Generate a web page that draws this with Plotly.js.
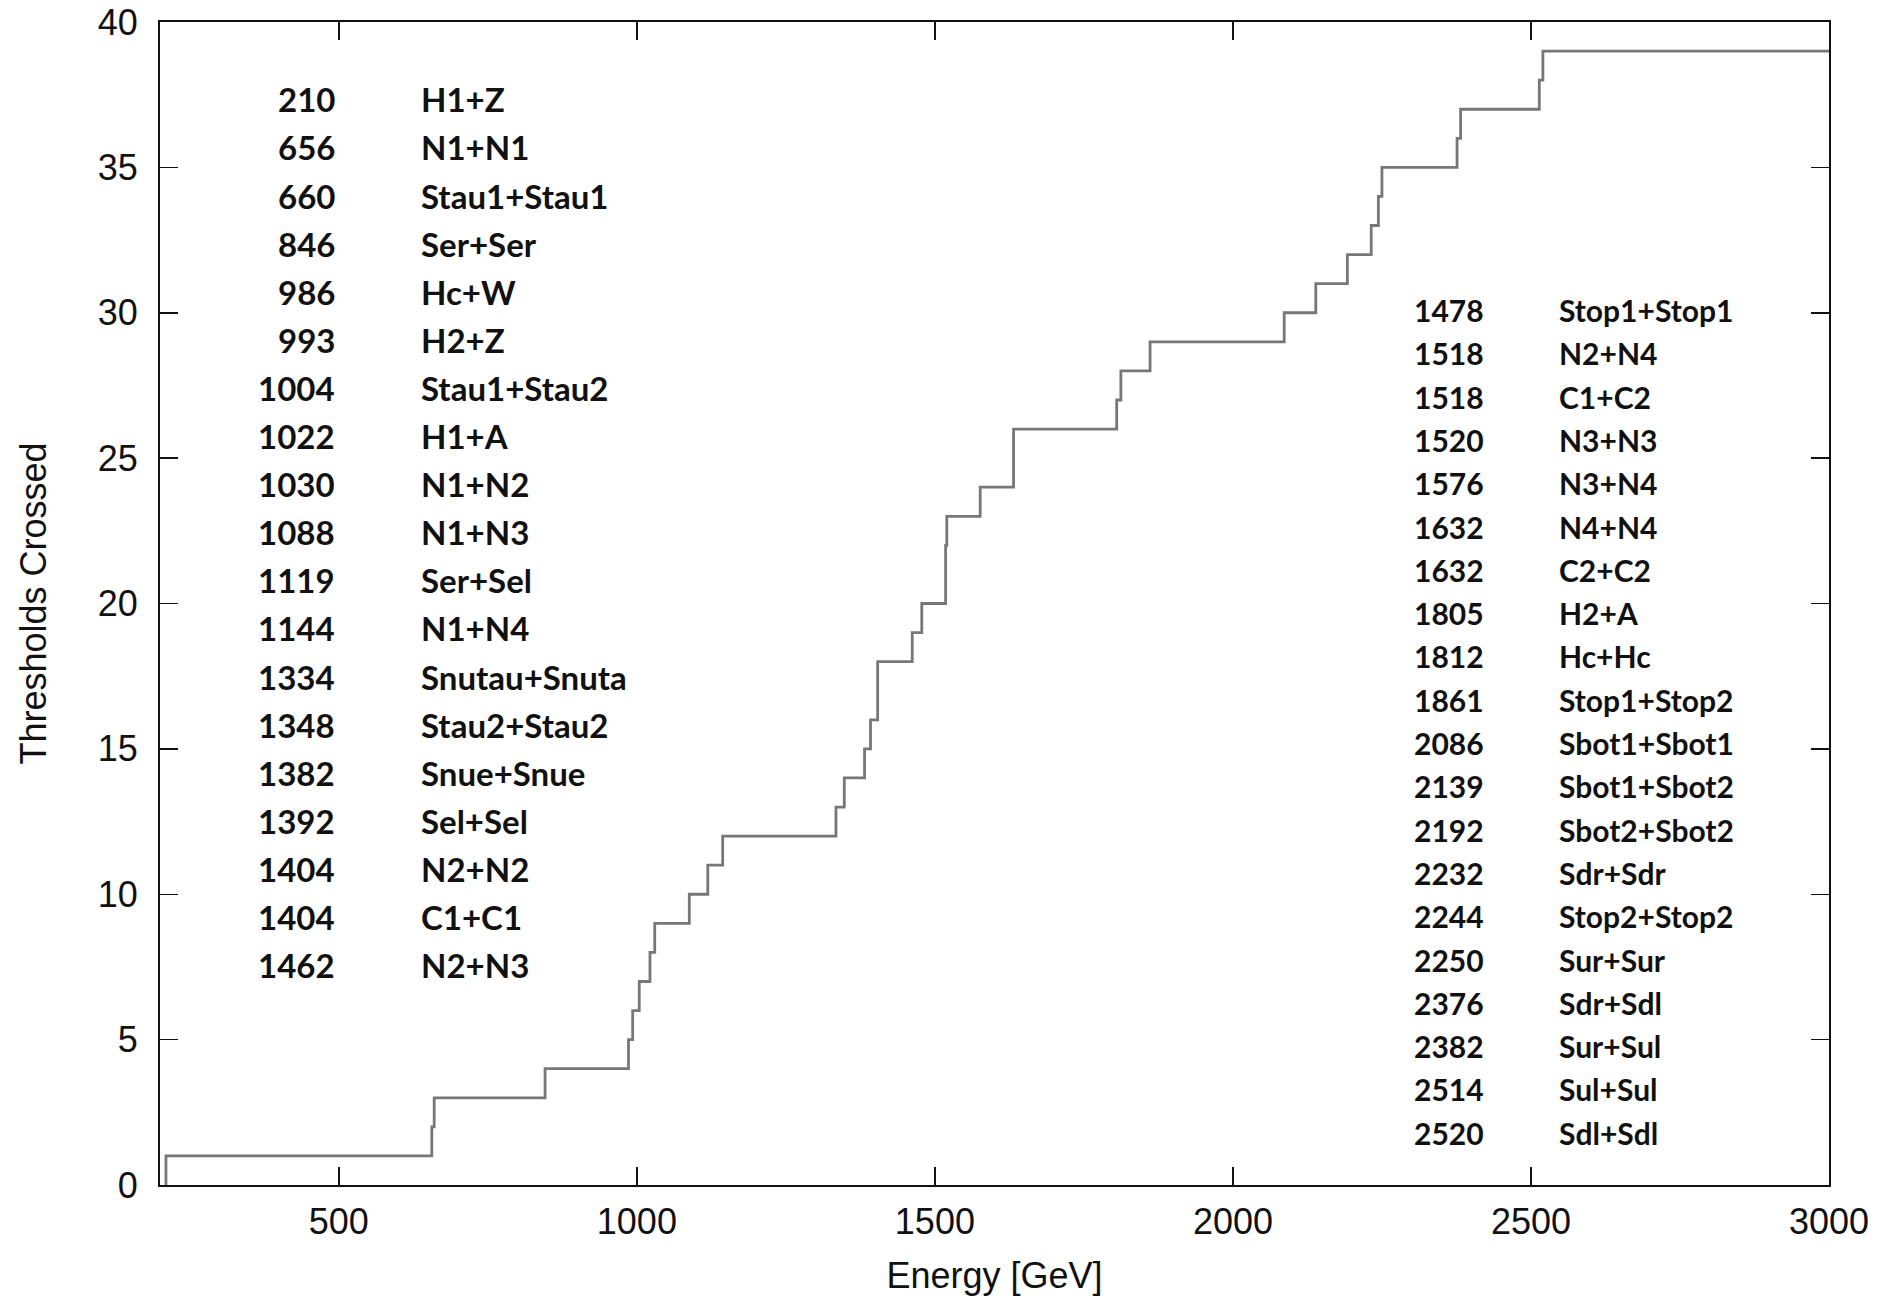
<!DOCTYPE html>
<html>
<head>
<meta charset="utf-8">
<script src="https://cdn.plot.ly/plotly-3.0.1.min.js"></script>
<style>html,body{margin:0;padding:0;background:#fff;}#chart{width:1899px;height:1300px;}</style>
</head>
<body>
<div id="chart"></div>
<script>
// Threshold energies (GeV) and channel names, left list
const leftEnergies = [210, 656, 660, 846, 986, 993, 1004, 1022, 1030, 1088, 1119, 1144, 1334, 1348, 1382, 1392, 1404, 1404, 1462];
const leftChannels = ["H1+Z", "N1+N1", "Stau1+Stau1", "Ser+Ser", "Hc+W", "H2+Z", "Stau1+Stau2", "H1+A", "N1+N2", "N1+N3", "Ser+Sel", "N1+N4", "Snutau+Snutau", "Stau2+Stau2", "Snue+Snue", "Sel+Sel", "N2+N2", "C1+C1", "N2+N3"];
// right list
const rightEnergies = [1478, 1518, 1518, 1520, 1576, 1632, 1632, 1805, 1812, 1861, 2086, 2139, 2192, 2232, 2244, 2250, 2376, 2382, 2514, 2520];
const rightChannels = ["Stop1+Stop1", "N2+N4", "C1+C2", "N3+N3", "N3+N4", "N4+N4", "C2+C2", "H2+A", "Hc+Hc", "Stop1+Stop2", "Sbot1+Sbot1", "Sbot1+Sbot2", "Sbot2+Sbot2", "Sdr+Sdr", "Stop2+Stop2", "Sur+Sur", "Sdr+Sdl", "Sur+Sul", "Sul+Sul", "Sdl+Sdl"];
const xMax = 3000;
const xTicks = [500, 1000, 1500, 2000, 2500, 3000];
const yTicks = [0, 5, 10, 15, 20, 25, 30, 35, 40];

// cumulative count of thresholds crossed
const allE = leftEnergies.concat(rightEnergies).slice().sort((a, b) => a - b);
const xs = [allE[0]];
const ys = [0];
allE.forEach((e, i) => { xs.push(e); ys.push(i + 1); });
xs.push(xMax); ys.push(allE.length);

const W = 1899, H = 1300, ML = 160, MR = 70, MT = 22, MB = 115;
const PW = W - ML - MR, PH = H - MT - MB;
const px = v => (v - ML) / PW;
const py = v => 1 - (v - MT) / PH;

const annotations = [];
const numFont = "Lato, 'Noto Sans', sans-serif";
leftEnergies.forEach((e, i) => {
  const y = py(99.3 + i * 48.1);
  annotations.push({xref: 'paper', yref: 'paper', x: px(337), y: y, xanchor: 'right', yanchor: 'middle',
    text: String(e), showarrow: false, font: {family: numFont, size: 33, color: '#111', weight: 'bold'}});
  const a = {xref: 'paper', yref: 'paper', x: px(419), y: y, xanchor: 'left', yanchor: 'middle',
    text: leftChannels[i], showarrow: false, align: 'left', font: {family: numFont, size: 33, color: '#111', weight: 'bold'}};
  if (leftChannels[i] === "Snutau+Snutau") { a.width = 207; }
  annotations.push(a);
});
rightEnergies.forEach((e, i) => {
  const y = py(310 + i * 43.3);
  annotations.push({xref: 'paper', yref: 'paper', x: px(1412), y: y, xanchor: 'left', yanchor: 'middle',
    text: String(e), showarrow: false, font: {family: numFont, size: 30, color: '#111', weight: 'bold'}});
  annotations.push({xref: 'paper', yref: 'paper', x: px(1557), y: y, xanchor: 'left', yanchor: 'middle',
    text: rightChannels[i], showarrow: false, font: {family: numFont, size: 30, color: '#111', weight: 'bold'}});
});

const axisFont = {family: "'Liberation Sans', Arial, sans-serif", size: 36, color: '#111'};
const layout = {
  width: W, height: H,
  margin: {l: ML, r: MR, t: MT, b: MB},
  paper_bgcolor: '#fff', plot_bgcolor: '#fff',
  showlegend: false,
  xaxis: {
    range: [200, xMax], tickvals: xTicks, ticktext: xTicks.map(String),
    ticks: 'inside', ticklen: 18, tickwidth: 1.5, tickcolor: '#111',
    showline: true, linecolor: '#111', linewidth: 2, mirror: 'ticks',
    showgrid: false, zeroline: false, tickfont: axisFont, ticklabelstandoff: 4,
    title: {text: 'Energy [GeV]', font: {family: "'Liberation Sans', Arial, sans-serif", size: 36, color: '#111'}, standoff: 22}
  },
  yaxis: {
    range: [0, 40], tickvals: yTicks, ticktext: yTicks.map(String),
    ticks: 'inside', ticklen: 18, tickwidth: 1.5, tickcolor: '#111',
    showline: true, linecolor: '#111', linewidth: 2, mirror: 'ticks',
    showgrid: false, zeroline: false, tickfont: axisFont, ticklabelstandoff: 13,
    title: {text: 'Thresholds Crossed', font: {family: "'Liberation Sans', Arial, sans-serif", size: 36, color: '#111'}, standoff: 40}
  },
  annotations: annotations
};

Plotly.newPlot('chart', [{
  x: xs, y: ys, type: 'scatter', mode: 'lines',
  line: {shape: 'hv', color: '#777777', width: 2.8},
  hoverinfo: 'x+y'
}], layout, {staticPlot: true});
</script>
</body>
</html>
